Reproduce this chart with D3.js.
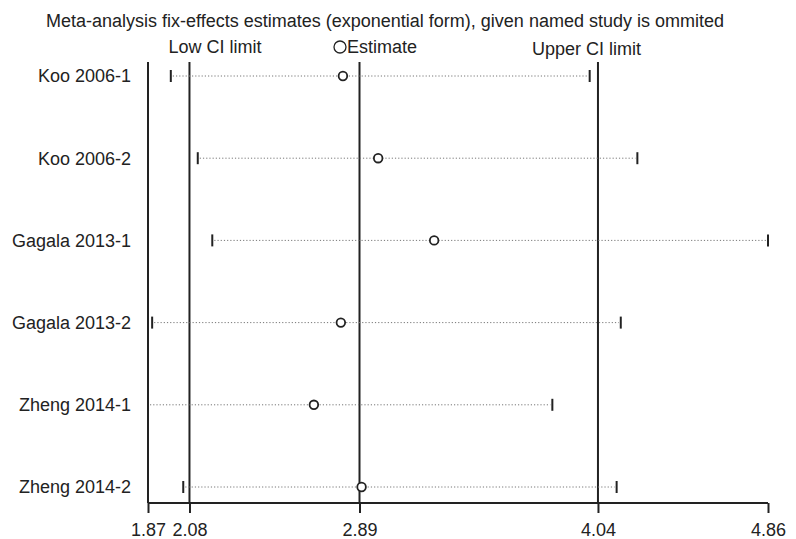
<!DOCTYPE html>
<html>
<head>
<meta charset="utf-8">
<script src="https://cdn.jsdelivr.net/npm/d3@7"></script>
<style>
  body { margin: 0; background: #fff; }
  svg { display: block; font-family: "Liberation Sans", Arial, sans-serif; }
</style>
</head>
<body>
<svg id="chart" width="796" height="539"></svg>
<script>
const studies = ['Koo 2006-1', 'Koo 2006-2', 'Gagala 2013-1', 'Gagala 2013-2', 'Zheng 2014-1', 'Zheng 2014-2']
const estimates = [2.81, 2.98, 3.25, 2.80, 2.67, 2.90]
const lowerCI = [1.98, 2.11, 2.18, 1.89, 1.87, 2.04]
const upperCI = [4.00, 4.23, 4.86, 4.15, 3.82, 4.13]

// axis ticks: min, low CI, estimate, upper CI, max
const tickValues = [1.87, 2.07, 2.89, 4.04, 4.86]
const tickLabels = ['1.87', '2.08', '2.89', '4.04', '4.86']
const refValues = [2.07, 2.89, 4.04]

const title = 'Meta-analysis fix-effects estimates (exponential form), given named study is ommited'

const svg = d3.select('#chart')
const plotTop = 62
const axisY = 503

const x = d3.scaleLinear()
  .domain([tickValues[0], tickValues[tickValues.length - 1]])
  .range([148, 768])

const y = d3.scalePoint()
  .domain(studies)
  .range([76, 487])

const ink = '#222'

// title
svg.append('text')
  .attr('x', 385)
  .attr('y', 27)
  .attr('text-anchor', 'middle')
  .attr('font-size', 18)
  .attr('fill', ink)
  .text(title)

// legend labels above the reference lines
svg.append('text')
  .attr('x', x(refValues[0]) - 21)
  .attr('y', 53)
  .attr('font-size', 18)
  .attr('fill', ink)
  .text('Low CI limit')

svg.append('circle')
  .attr('cx', 340)
  .attr('cy', 47)
  .attr('r', 6)
  .attr('fill', 'none')
  .attr('stroke', ink)
  .attr('stroke-width', 1.3)

svg.append('text')
  .attr('x', 347)
  .attr('y', 53)
  .attr('font-size', 18)
  .attr('fill', ink)
  .text('Estimate')

svg.append('text')
  .attr('x', 532)
  .attr('y', 55)
  .attr('font-size', 18)
  .attr('fill', ink)
  .text('Upper CI limit')

// x axis
const xAxis = d3.axisBottom(x)
  .tickValues(tickValues)
  .tickFormat((d, i) => tickLabels[i])
  .tickSize(10)
  .tickPadding(6)

const gx = svg.append('g')
  .attr('transform', `translate(0,${axisY})`)
  .call(xAxis)

gx.select('.domain')
  .attr('d', `M${x.range()[0]},0H${x.range()[1]}`)
  .attr('stroke', ink)
  .attr('stroke-width', 2)
gx.selectAll('.tick line')
  .attr('stroke', ink)
  .attr('stroke-width', 2)
gx.selectAll('.tick text')
  .attr('font-size', 18)
  .attr('font-family', '"Liberation Sans", Arial, sans-serif')
  .attr('fill', ink)
  .attr('dy', '0.95em')

// left frame line and reference lines
svg.append('g')
  .selectAll('line')
  .data([tickValues[0]].concat(refValues))
  .enter().append('line')
  .attr('x1', d => x(d))
  .attr('x2', d => x(d))
  .attr('y1', plotTop)
  .attr('y2', axisY)
  .attr('stroke', ink)
  .attr('stroke-width', 2)

// study labels
svg.append('g')
  .selectAll('text')
  .data(studies)
  .enter().append('text')
  .attr('x', 131)
  .attr('y', d => y(d))
  .attr('dy', '0.35em')
  .attr('text-anchor', 'end')
  .attr('font-size', 18)
  .attr('fill', ink)
  .text(d => d)

// rows: dotted CI span, end markers, estimate circle
const rows = svg.append('g')
  .selectAll('g')
  .data(studies)
  .enter().append('g')
  .attr('transform', d => `translate(0,${y(d)})`)

rows.append('line')
  .attr('x1', (d, i) => x(lowerCI[i]) + 2)
  .attr('x2', (d, i) => x(upperCI[i]) - 2)
  .attr('stroke', '#777')
  .attr('stroke-width', 1)
  .attr('stroke-dasharray', '1.2,2')

rows.selectAll('.cap')
  .data((d, i) => [lowerCI[i], upperCI[i]])
  .enter().append('line')
  .attr('class', 'cap')
  .attr('x1', v => x(v))
  .attr('x2', v => x(v))
  .attr('y1', -6)
  .attr('y2', 6)
  .attr('stroke', ink)
  .attr('stroke-width', 2)

rows.append('circle')
  .attr('cx', (d, i) => x(estimates[i]))
  .attr('cy', 0)
  .attr('r', 4.3)
  .attr('fill', '#fff')
  .attr('stroke', ink)
  .attr('stroke-width', 1.8)
</script>
</body>
</html>
